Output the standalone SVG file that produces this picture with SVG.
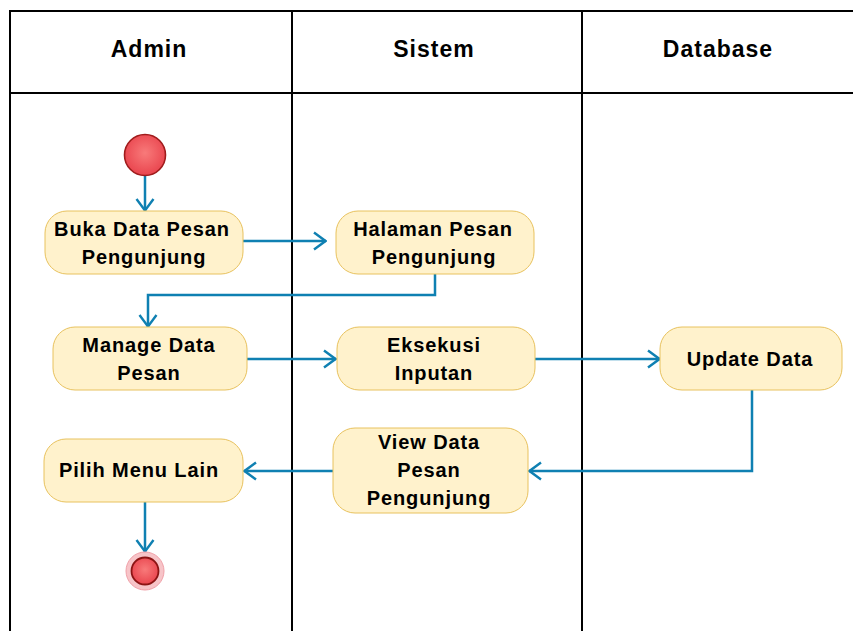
<svg xmlns="http://www.w3.org/2000/svg" width="853" height="631" viewBox="0 0 853 631">
<defs>
<radialGradient id="redg" cx="0.5" cy="0.45" r="0.6">
<stop offset="0" stop-color="#f87a7a"/>
<stop offset="1" stop-color="#e8404a"/>
</radialGradient>
<marker id="arr" viewBox="0 0 14 20" refX="13" refY="10" markerWidth="14" markerHeight="20" markerUnits="userSpaceOnUse" orient="auto">
<path d="M1,1.5 L12.5,10 L1,18.5" fill="none" stroke="#0f80b2" stroke-width="2.4"/>
</marker>
<style>
.lane{fill:none;stroke:#000;stroke-width:2}
.hd{font-family:"Liberation Sans",Arial,sans-serif;font-weight:bold;font-size:23px;letter-spacing:1px;text-anchor:middle;fill:#000}
.act{fill:#fff2cc;stroke:#e8c25e;stroke-width:1}
.t{font-family:"Liberation Sans",Arial,sans-serif;font-weight:bold;font-size:20px;letter-spacing:0.9px;text-anchor:middle;fill:#000}
.c{fill:none;stroke:#0f80b2;stroke-width:2.5;marker-end:url(#arr)}
</style>
</defs>
<rect width="853" height="631" fill="#fff"/>
<g id="lanes">
<path class="lane" d="M10,632 V11 H854 M10,93 H854 M292,11 V632 M582,11 V632"/>
<text class="hd" x="149" y="57">Admin</text>
<text class="hd" x="434" y="57">Sistem</text>
<text class="hd" x="718" y="57">Database</text>
</g>
<g id="connectors">
<path class="c" d="M145,175 V211"/>
<path class="c" d="M243,241 H326"/>
<path class="c" d="M435,274 V295 H148 V327"/>
<path class="c" d="M247,359 H336"/>
<path class="c" d="M535,359 H660"/>
<path class="c" d="M752,390 V471 H529"/>
<path class="c" d="M333,471 H244"/>
<path class="c" d="M145,502 V552"/>
</g>
<g id="start">
<circle cx="145" cy="155" r="20.5" fill="url(#redg)" stroke="#a01c1c" stroke-width="1.6"/>
</g>
<g id="n1">
<rect class="act" x="45" y="211" width="198" height="63" rx="22"/>
<text class="t" x="142" y="236">Buka Data Pesan</text>
<text class="t" x="144" y="264">Pengunjung</text>
</g>
<g id="n2">
<rect class="act" x="336" y="211" width="198" height="63" rx="22"/>
<text class="t" x="433" y="236">Halaman Pesan</text>
<text class="t" x="434" y="264">Pengunjung</text>
</g>
<g id="n3">
<rect class="act" x="53" y="327" width="194" height="63" rx="22"/>
<text class="t" x="149" y="352">Manage Data</text>
<text class="t" x="149" y="380">Pesan</text>
</g>
<g id="n4">
<rect class="act" x="337" y="327" width="198" height="63" rx="22"/>
<text class="t" x="434" y="352">Eksekusi</text>
<text class="t" x="434" y="380">Inputan</text>
</g>
<g id="n5">
<rect class="act" x="660" y="327" width="182" height="63" rx="22"/>
<text class="t" x="750" y="366">Update Data</text>
</g>
<g id="n6">
<rect class="act" x="333" y="428" width="195" height="85" rx="22"/>
<text class="t" x="429" y="449">View Data</text>
<text class="t" x="429" y="477">Pesan</text>
<text class="t" x="429" y="505">Pengunjung</text>
</g>
<g id="n7">
<rect class="act" x="44" y="439" width="199" height="63" rx="22"/>
<text class="t" x="139" y="477">Pilih Menu Lain</text>
</g>
<g id="end">
<circle cx="145" cy="571" r="19" fill="#f7c4c8" stroke="#f0a0a8" stroke-width="1"/>
<circle cx="145" cy="571" r="13.5" fill="url(#redg)" stroke="#8c1414" stroke-width="1.8"/>
</g>
</svg>
